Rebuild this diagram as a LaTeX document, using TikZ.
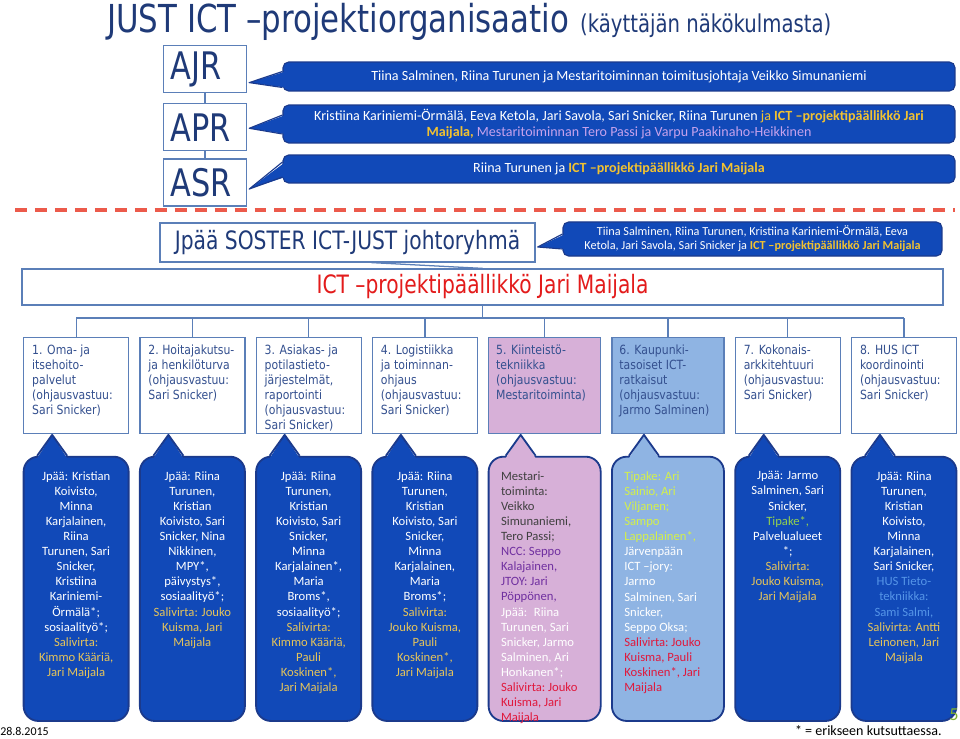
\documentclass[tikz,border=0pt]{standalone}
\usepackage{fontspec}
\setmainfont{Carlito}
\newfontfamily\titlefont[FakeStretch=0.8]{DejaVu Sans}
\newfontfamily\boxfont[FakeStretch=0.86]{DejaVu Sans}
\usetikzlibrary{positioning,calc}
\definecolor{navy}{HTML}{1F3A78}
\definecolor{boxline}{HTML}{5B7FB8}
\definecolor{boxtext}{HTML}{34508F}
\definecolor{bubblue}{HTML}{1149B8}
\definecolor{bubline}{HTML}{1B3A8C}
\definecolor{pinkfill}{HTML}{D7B0D8}
\definecolor{skyfill}{HTML}{8FB4E3}
\definecolor{ictgold}{HTML}{F2C230}
\definecolor{saligold}{HTML}{E6C45A}
\definecolor{ictred}{HTML}{E31B1B}
\definecolor{dashred}{HTML}{EC5A4B}
\definecolor{tipgreen}{HTML}{92D050}
\definecolor{tipyellow}{HTML}{D4F04A}
\definecolor{husblue}{HTML}{5595E8}
\definecolor{nccpurple}{HTML}{7030A0}
\definecolor{darkgray}{HTML}{404040}
\definecolor{salired}{HTML}{E0183C}
\definecolor{lavender}{HTML}{C6A2EC}
\definecolor{pagegreen}{HTML}{7FB030}
\newcommand{\pxl}{0.7114pt}
\newcommand{\tasktext}[2][62.5pt]{\parbox[c][57pt][t]{#1}{\raggedright #2}}
\newcommand{\calltext}[1]{\parbox[c][167pt][t]{68pt}{\centering #1}}
\newcommand{\calltextl}[1]{\parbox[c][167pt][t]{62pt}{\raggedright #1}}
\tikzset{
  levelbox/.style={draw=boxline, line width=0.9pt, fill=white, text=navy,
    text width=49pt, align=left, inner xsep=5pt, inner ysep=0pt,
    minimum height=33.4pt, font=\titlefont\fontsize{27}{27}\selectfont},
  headbox/.style={draw=boxline, line width=0.9pt, fill=white, inner sep=0pt,
    font=\titlefont\fontsize{18}{20}\selectfont},
  taskbox/.style={draw=boxline, line width=0.9pt, fill=white, text=boxtext,
    inner xsep=0pt, inner ysep=5.5pt, minimum width=74.7pt,
    font=\boxfont\fontsize{9}{10.6}\selectfont},
  callout/.style={fill=bubblue, draw=bubline, line width=0.8pt,
    rounded corners=4pt, text=white, inner sep=0pt, minimum width=478pt,
    align=center, font=\fontsize{10}{12}\selectfont},
  callbox/.style={fill=bubblue, draw=bubline, line width=1.3pt,
    rounded corners=10.5pt, text=white, inner xsep=0pt, inner ysep=10.5pt,
    minimum width=74.7pt, font=\fontsize{9}{10.74}\selectfont},
  tipedge/.style={draw=bubline, line join=round},
  tree/.style={draw=boxline, line width=0.9pt},
  sepline/.style={draw=dashred, line width=2.2pt, dash pattern=on 8.5pt off 5.7pt}
}
\begin{document}
\begin{tikzpicture}[x=0.7114pt, y=-0.7114pt, node distance=7.1pt]
  \useasboundingbox[fill=white] (0,0) rectangle (960,738);
  % title
  \node[anchor=base west, inner sep=0pt, text=navy, font=\titlefont] (title) at (107,32)
    {\fontsize{27.4}{30}\selectfont JUST ICT –projektiorganisaatio\hspace{8pt}\fontsize{17.5}{20}\selectfont(käyttäjän näkökulmasta)};
  % decision levels
  \node[levelbox, anchor=north west] (ajr) at (163,45) {AJR};
  \node[levelbox, below=7.1pt of ajr] (apr) {APR};
  \node[levelbox, below=5pt of apr] (asr) {ASR};
  \draw[tree] (ajr) -- (apr);
  \draw[tree] (apr) -- (asr);
  \node[callout, minimum height=20.6pt] (ajrc) at (619,76.5)
    {Tiina Salminen, Riina Turunen ja Mestaritoiminnan toimitusjohtaja Veikko Simunaniemi};
  \node[callout, minimum height=27pt] (aprc) at (619,124)
    {Kristiina Kariniemi-Örmälä, Eeva Ketola, Jari Savola, Sari Snicker, Riina Turunen {\color{ictgold} ja \textbf{ICT –projektipäällikkö Jari}}\\
     {\color{ictgold}\textbf{Maijala,}} {\color{lavender}Mestaritoiminnan Tero Passi ja Varpu Paakinaho-Heikkinen}};
  \node[callout, minimum height=19.9pt] (asrc) at (619,169)
    {Riina Turunen ja {\color{ictgold}\textbf{ICT –projektipäällikkö Jari Maijala}}};
  \draw[sepline] (15,210) -- (955,210);
  % steering group and project manager
  \node[headbox, minimum width=266.8pt, minimum height=27.7pt, text=navy] (johto) at (347.5,242.5)
    {Jpää SOSTER ICT-JUST johtoryhmä};
  \node[callout, minimum width=269.6pt, minimum height=24.2pt, font=\fontsize{8.7}{10}\selectfont] (johtoc) at (752.5,239)
    {Tiina Salminen, Riina Turunen, Kristiina Kariniemi-Örmälä, Eeva\\
     Ketola, Jari Savola, Sari Snicker ja {\color{ictgold}\textbf{ICT –projektipäällikkö Jari Maijala}}};
  \node[headbox, minimum width=655.2pt, minimum height=25.6pt, text=ictred] (ict) at (482.5,287)
    {ICT –projektipäällikkö Jari Maijala};
  \draw[tree] ([xshift=17pt]johto.south) -- (ict.north);
  \foreach \lb/\lc/\ay/\ta/\tb in {ajr/ajrc/13.5/-5/11, apr/aprc/1/-9/10, asr/asrc/6.5/-7/8, johto/johtoc/4.5/-5/10}{
    \fill[bubblue] ($(\lc.west)+(3,\ta)$) -- ($(\lb.east)+(2,\ay)$) -- ($(\lc.west)+(3,\tb)$) -- cycle;
    \draw[tipedge, line width=0.8pt] ($(\lc.west)+(0,\ta)$) -- ($(\lb.east)+(2,\ay)$) -- ($(\lc.west)+(0,\tb)$);
  }
  % sub-projects
  \node[taskbox, anchor=north west] (t1) at (23,337)
    {\tasktext{1. Oma- ja\\ itsehoito-\\ palvelut\\ (ohjausvastuu:\\ Sari Snicker)}};
  \node[taskbox, right=of t1] (t2)
    {\tasktext{2.~Hoitajakutsu-\\ ja henkilöturva\\ (ohjausvastuu:\\ Sari Snicker)}};
  \node[taskbox, right=of t2] (t3)
    {\tasktext{3. Asiakas- ja\\ potilastieto-\\ järjestelmät,\\ raportointi\\ (ohjausvastuu:\\ Sari Snicker)}};
  \node[taskbox, right=of t3] (t4)
    {\tasktext{4. Logistiikka\\ ja toiminnan-\\ ohjaus\\ (ohjausvastuu:\\ Sari Snicker)}};
  \node[taskbox, right=of t4, minimum width=79.7pt, fill=pinkfill] (t5)
    {\tasktext[69pt]{5. Kiinteistö-\\ tekniikka\\ (ohjausvastuu:\\ Mestaritoiminta)}};
  \node[taskbox, right=of t5, minimum width=79.7pt, fill=skyfill] (t6)
    {\tasktext[69pt]{6. Kaupunki-\\ tasoiset ICT-\\ ratkaisut\\ (ohjausvastuu:\\ Jarmo~Salminen)}};
  \node[taskbox, right=of t6] (t7)
    {\tasktext{7. Kokonais-\\ arkkitehtuuri\\ (ohjausvastuu:\\ Sari Snicker)}};
  \node[taskbox, right=of t7] (t8)
    {\tasktext{8. HUS ICT\\ koordinointi\\ (ohjausvastuu:\\ Sari Snicker)}};
  \coordinate (bus) at (482.5,318);
  \draw[tree] (ict.south) -- (bus);
  \draw[tree] (t1.north |- bus) -- (t8.north |- bus);
  \foreach \i in {1,...,8}
    \draw[tree] (t\i.north |- bus) -- (t\i.north);
  % members
  \node[callbox, below=15.6pt of t1] (c1)
    {\calltext{Jpää: Kristian\\ Koivisto,\\ Minna\\ Karjalainen,\\ Riina\\ Turunen, Sari\\ Snicker,\\ Kristiina\\ Kariniemi-\\ Örmälä*;\\ sosiaalityö*;\\
     {\color{saligold}Salivirta:\\ Kimmo Kääriä,\\ Jari Maijala}}};
  \node[callbox, below=15.6pt of t2] (c2)
    {\calltext{Jpää: Riina\\ Turunen,\\ Kristian\\ Koivisto, Sari\\ Snicker, Nina\\ Nikkinen,\\ MPY*,\\ päivystys*,\\ sosiaalityö*;\\
     {\color{saligold}Salivirta: Jouko\\ Kuisma, Jari\\ Maijala}}};
  \node[callbox, below=15.6pt of t3] (c3)
    {\calltext{Jpää: Riina\\ Turunen,\\ Kristian\\ Koivisto, Sari\\ Snicker,\\ Minna\\ Karjalainen*,\\ Maria\\ Broms*,\\ sosiaalityö*;\\
     {\color{saligold}Salivirta:\\ Kimmo Kääriä,\\ Pauli\\ Koskinen*,\\ Jari Maijala}}};
  \node[callbox, below=15.6pt of t4] (c4)
    {\calltext{Jpää: Riina\\ Turunen,\\ Kristian\\ Koivisto, Sari\\ Snicker,\\ Minna\\ Karjalainen,\\ Maria\\ Broms*;\\
     {\color{saligold}Salivirta:\\ Jouko Kuisma,\\ Pauli\\ Koskinen*,\\ Jari Maijala}}};
  \node[callbox, below=15.6pt of t5, minimum width=79.7pt, fill=pinkfill] (c5)
    {\calltextl{{\color{darkgray}Mestari-\\ toiminta:\\ Veikko\\ Simunaniemi,\\ Tero Passi;}\\
     {\color{nccpurple}NCC: Seppo\\ Kalajainen,\\ JTOY: Jari\\ Pöppönen,}\\
     Jpää:~ Riina\\ Turunen, Sari\\ Snicker,~Jarmo\\ Salminen, Ari\\ Honkanen*;\\
     {\color{salired}Salivirta:~Jouko\\ Kuisma, Jari\\ Maijala}}};
  \node[callbox, below=15.6pt of t6, minimum width=79.7pt, fill=skyfill] (c6)
    {\calltextl{{\color{tipyellow}Tipake: Ari\\ Sainio, Ari\\ Viljanen;\\ Sampo\\ Lappalainen*,}\\
     Järvenpään\\ ICT –jory:\\ Jarmo\\ Salminen,~Sari\\ Snicker,\\ Seppo Oksa;\\
     {\color{salired}Salivirta:~Jouko\\ Kuisma,~Pauli\\ Koskinen*,~Jari\\ Maijala}}};
  \node[callbox, below=15.6pt of t7] (c7)
    {\calltext{Jpää: Jarmo\\ Salminen, Sari\\ Snicker,\\ {\color{tipgreen}Tipake*,}\\ Palvelualueet\\ {*};\\
     {\color{saligold}Salivirta:\\ Jouko Kuisma,\\ Jari Maijala}}};
  \node[callbox, below=15.6pt of t8] (c8)
    {\calltext{Jpää: Riina\\ Turunen,\\ Kristian\\ Koivisto,\\ Minna\\ Karjalainen,\\ Sari Snicker,\\
     {\color{husblue}HUS Tieto-\\ tekniikka:\\ Sami Salmi,}\\
     {\color{saligold}Salivirta: Antti\\ Leinonen, Jari\\ Maijala}}};
  \foreach \i/\fc in {1/bubblue,2/bubblue,3/bubblue,4/bubblue,5/pinkfill,6/skyfill,7/bubblue,8/bubblue}{
    \fill[\fc] ($(c\i.north)+(-39,2.5)$) -- ($(t\i.south)+(-24,1)$) -- ($(c\i.north)+(-9,2.5)$) -- cycle;
    \draw[tipedge, line width=1.3pt] ($(c\i.north)+(-39,0)$) -- ($(t\i.south)+(-24,1)$) -- ($(c\i.north)+(-9,0)$);
  }
  % footer
  \node[anchor=base west, inner sep=0pt, font=\fontsize{8.5}{10}\selectfont] (date) at (0,735) {28.8.2015};
  \node[anchor=base east, inner sep=0pt, font=\fontsize{10}{12}\selectfont] (note) at (942,735) {* = erikseen kutsuttaessa.};
  \node[anchor=base, inner sep=0pt, text=pagegreen, font=\fontsize{13}{14}\selectfont] (page) at (954,720) {5};
\end{tikzpicture}
\end{document}
